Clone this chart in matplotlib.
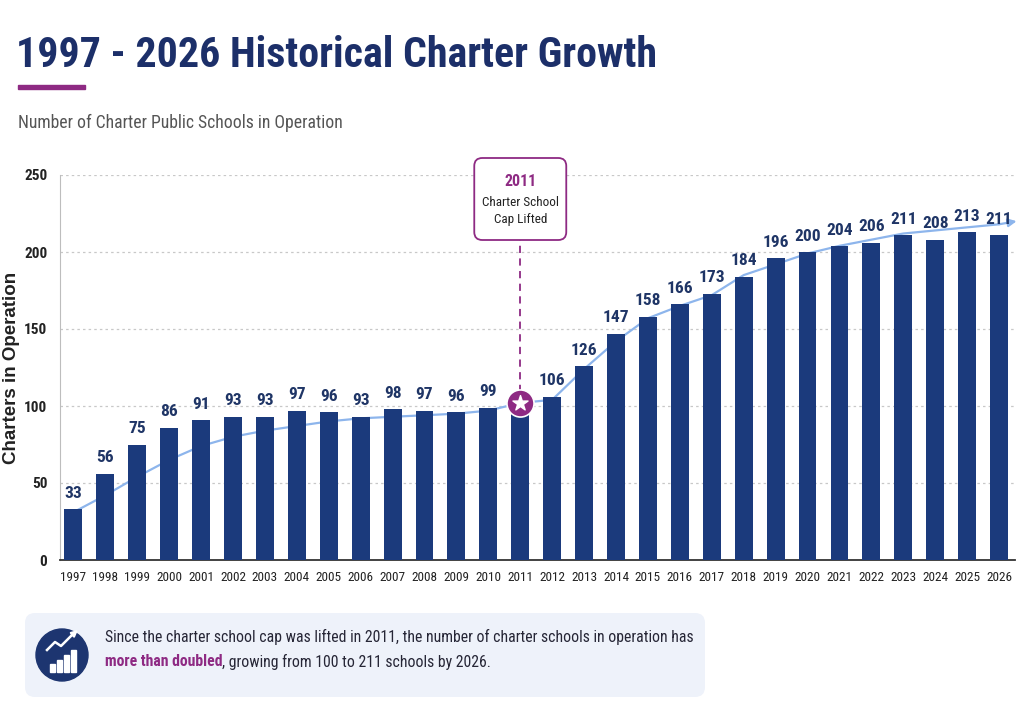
import matplotlib
matplotlib.use("Agg")
import matplotlib.pyplot as plt
from matplotlib.patches import FancyBboxPatch, Circle, Rectangle
from matplotlib import font_manager

years = [str(y) for y in range(1997, 2027)]
charters = [33, 56, 75, 86, 91, 93, 93, 97, 96, 93, 98, 97, 96, 99, 100, 106,
            126, 147, 158, 166, 173, 184, 196, 200, 204, 206, 211, 208, 213, 211]
# light blue trend line
trend = [31, 42, 54, 65, 74, 80, 84, 87, 90, 92, 93, 94, 95, 97, 102, 104,
         124, 142, 157, 165, 172, 185, 192, 199, 204, 208, 212, 214, 216, 218]
trend_end = 220
cap_year = "2011"
y_ticks = [0, 50, 100, 150, 200, 250]

NAVY = "#1B3A7C"
TITLE_NAVY = "#1C2F69"
PURPLE = "#8E2A83"
TREND = "#8DB5EC"


def pick_narrow():
    names = sorted({f.name for f in font_manager.fontManager.ttflist})
    for cand in ["Roboto Condensed", "Liberation Sans Narrow", "Open Sans Condensed",
                 "DejaVu Sans Condensed", "Noto Sans Condensed"]:
        if cand in names:
            return cand
    for n in names:
        if "Condensed" in n or "Narrow" in n:
            return n
    return "Liberation Sans"


NARROW = [pick_narrow(), "DejaVu Sans"]

fig = plt.figure(figsize=(10.24, 7.06), dpi=100)
fig.patch.set_facecolor("white")
renderer = fig.canvas.get_renderer()


def fit(txt, width):
    # shrink or grow a text until it is as wide as in the reference
    for _ in range(3):
        w = txt.get_window_extent(renderer).width
        txt.set_fontsize(txt.get_fontsize() * width / w)


# main chart
ax = fig.add_axes([60 / 1024, 146 / 706, 955 / 1024, 385 / 706], zorder=1)
ax.patch.set_alpha(0)
x = list(range(len(years)))
ax.set_xlim(-0.42, len(years) - 0.5)
ax.set_ylim(0, 250)
ax.bar(x, charters, width=0.56, color=NAVY, zorder=3)
ax.plot(x, trend, color=TREND, lw=1.6, zorder=2, solid_capstyle="round")
ax.annotate("", xy=(x[-1] + 0.55, trend_end), xytext=(x[-1], trend[-1]),
            arrowprops=dict(arrowstyle="-|>", color=TREND, lw=1.6,
                            mutation_scale=12, shrinkA=0, shrinkB=0),
            annotation_clip=False, zorder=2)

ci = years.index(cap_year)
for i, v in enumerate(charters):
    if i == ci:
        continue
    ax.annotate(str(v), (i, v), xytext=(0, 6), textcoords="offset points",
                ha="center", va="bottom", fontsize=12.5, fontweight="semibold",
                color="#1F3566", family=NARROW)

ax.set_yticks(y_ticks)
ax.set_xticks(x)
ax.set_xticklabels(years, fontsize=9.5, color="#222222", family=NARROW)
ax.set_yticklabels([str(t) for t in y_ticks], fontsize=11, fontweight="bold",
                   color="#222222", family=NARROW)
ax.tick_params(axis="both", length=0)
ax.tick_params(axis="x", pad=8)
ax.tick_params(axis="y", pad=9)
ax.grid(axis="y", linestyle=(0, (2, 2.5)), color="#c8c8c8", lw=0.9, zorder=0)
for s in ["top", "right"]:
    ax.spines[s].set_visible(False)
ax.spines["left"].set_color("#bdbdbd")
ax.spines["bottom"].set_color("#333333")
ax.spines["bottom"].set_linewidth(1.3)
ax.set_ylabel("Charters in Operation", fontsize=13.5, fontweight="bold",
              color="#222222", family=["Liberation Sans", "DejaVu Sans"])
ax.yaxis.set_label_coords(-0.042, 0.5)

# star on the cap year
ax.scatter([ci], [trend[ci]], s=380, color=PURPLE, zorder=5, clip_on=False,
           edgecolors="white", linewidths=1.2)
ax.scatter([ci], [trend[ci]], s=130, marker="*", color="white", zorder=6)

# overlay in pixel coordinates for decorations
ov = fig.add_axes([0, 0, 1, 1], zorder=3)
ov.set_xlim(0, 1024)
ov.set_ylim(706, 0)
ov.axis("off")
ov.patch.set_alpha(0)

cx = ax.transData.transform((ci, 0))[0]
box_bottom = 240
ytop = ax.transData.inverted().transform((0, 706 - box_bottom))[1]
ax.plot([ci, ci], [trend[ci] + 7, ytop], color=PURPLE, lw=1.3,
        linestyle=(0, (4, 3)), zorder=4, clip_on=False)
ov.add_patch(FancyBboxPatch((cx - 46, 158), 92, box_bottom - 158,
                            boxstyle="round,pad=0,rounding_size=8",
                            fc="white", ec=PURPLE, lw=1.3))
t2011 = ov.text(cx, 181, cap_year, ha="center", va="center", fontsize=12.5,
                fontweight="bold", color=PURPLE, family=NARROW)
fit(t2011, 32)
tcap = ov.text(cx, 211, "Charter School\nCap Lifted", ha="center", va="center",
               fontsize=9.5, color="#222222", family=NARROW, linespacing=1.35)
fit(tcap, 77)

# title block
title = ov.text(16, 67, "1997 - 2026 Historical Charter Growth", fontsize=38,
                fontweight="bold", color=TITLE_NAVY, family=NARROW, va="baseline")
fit(title, 641)
ov.add_patch(Rectangle((18, 85), 67, 4, color=PURPLE))
sub = ov.text(18, 128, "Number of Charter Public Schools in Operation", fontsize=13,
              color="#555555", family=NARROW, va="baseline")
fit(sub, 324)

# summary box
ov.add_patch(FancyBboxPatch((25, 613), 680, 84,
                            boxstyle="round,pad=0,rounding_size=10",
                            fc="#EEF2FA", ec="none"))
ov.add_patch(Circle((62, 655), 26, color="#1D3570"))
for bx, bh in zip([50, 57, 64, 71], [8, 12, 17, 22]):
    ov.add_patch(Rectangle((bx, 672 - bh), 5, bh, color="white"))
ov.plot([47, 55, 61, 72], [650, 642, 646, 635], color="white", lw=1.8)
ov.annotate("", xy=(78, 630), xytext=(71, 636),
            arrowprops=dict(arrowstyle="-|>", color="white", lw=1.5,
                            mutation_scale=9, shrinkA=0, shrinkB=0))

line1 = ov.text(105, 637, "Since the charter school cap was lifted in 2011, the number of "
                "charter schools in operation has", fontsize=11.5, color="#262636",
                family=NARROW, va="center")
fit(line1, 585)
fs = line1.get_fontsize()
t = ov.text(105, 662, "more than doubled", fontsize=fs, color=PURPLE,
            fontweight="bold", family=NARROW, va="center")
ov.annotate(", growing from 100 to 211 schools by 2026.", xy=(1, 0), xycoords=t,
            fontsize=fs, color="#262636", family=NARROW, va="bottom", ha="left")

fig.savefig("out.png", dpi=100)
